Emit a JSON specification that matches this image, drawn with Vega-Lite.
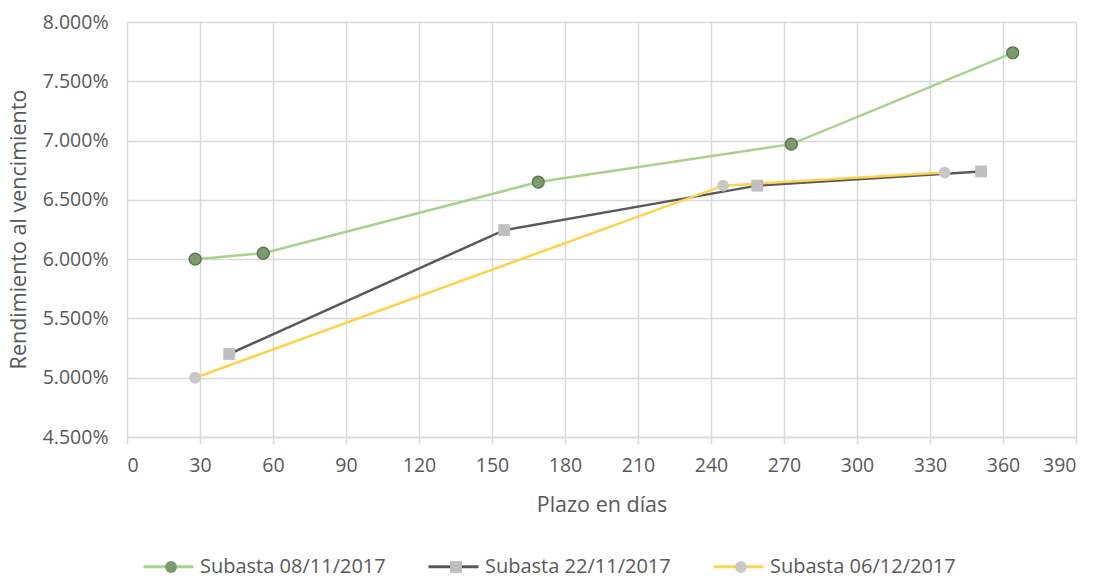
{
  "$schema": "https://vega.github.io/schema/vega-lite/v6.json",
  "width": 949,
  "height": 415,
  "autosize": {"type": "none"},
  "padding": {"left": 127, "top": 22, "right": 21, "bottom": 144},
  "background": "white",
  "config": {
    "font": "Open Sans",
    "view": {"stroke": null},
    "axis": {
      "gridColor": "#d9d9d9",
      "gridWidth": 1.5,
      "labelColor": "#595959",
      "titleColor": "#595959",
      "labelFont": "Open Sans",
      "titleFont": "Open Sans",
      "labelFontSize": 19.5,
      "titleFontSize": 21.5,
      "titleFontWeight": "normal"
    },
    "legend": {"labelFont": "Open Sans", "labelFontSize": 20, "labelColor": "#595959", "labelLimit": 400}
  },
  "data": {
    "values": [
      {"series": "Subasta 08/11/2017", "plazo": 28, "rend": 0.0600},
      {"series": "Subasta 08/11/2017", "plazo": 56, "rend": 0.0605},
      {"series": "Subasta 08/11/2017", "plazo": 169, "rend": 0.0665},
      {"series": "Subasta 08/11/2017", "plazo": 273, "rend": 0.0697},
      {"series": "Subasta 08/11/2017", "plazo": 364, "rend": 0.0774},
      {"series": "Subasta 22/11/2017", "plazo": 42, "rend": 0.0520},
      {"series": "Subasta 22/11/2017", "plazo": 155, "rend": 0.06245},
      {"series": "Subasta 22/11/2017", "plazo": 259, "rend": 0.0662},
      {"series": "Subasta 22/11/2017", "plazo": 351, "rend": 0.0674},
      {"series": "Subasta 06/12/2017", "plazo": 28, "rend": 0.0500},
      {"series": "Subasta 06/12/2017", "plazo": 245, "rend": 0.0662},
      {"series": "Subasta 06/12/2017", "plazo": 336, "rend": 0.0673}
    ]
  },
  "encoding": {
    "x": {
      "field": "plazo", "type": "quantitative",
      "scale": {"domain": [0, 390], "nice": false, "zero": false},
      "axis": {
        "title": "Plazo en días",
        "values": [0, 30, 60, 90, 120, 150, 180, 210, 240, 270, 300, 330, 360, 390],
        "domainColor": "#d9d9d9", "domainWidth": 1.5,
        "tickColor": "#d9d9d9", "tickWidth": 1.5, "tickSize": 7,
        "labelPadding": 12,
        "titleBaseline": "middle", "titleY": 68
      }
    },
    "y": {
      "field": "rend", "type": "quantitative",
      "scale": {"domain": [0.045, 0.08], "nice": false, "zero": false},
      "axis": {
        "title": "Rendimiento al vencimiento",
        "values": [0.045, 0.05, 0.055, 0.06, 0.065, 0.07, 0.075, 0.08],
        "format": ".3%",
        "domain": false, "ticks": false,
        "labelPadding": 19,
        "titleBaseline": "middle", "titleX": -108, "titleY": 207
      }
    }
  },
  "layer": [
    {
      "mark": {"type": "line", "strokeWidth": 2.5},
      "encoding": {
        "stroke": {
          "field": "series", "type": "nominal",
          "sort": ["Subasta 08/11/2017", "Subasta 22/11/2017", "Subasta 06/12/2017"],
          "scale": {"range": ["#a9d18e", "#595959", "#ffd24d"]},
          "legend": {
            "title": null, "orient": "none", "direction": "horizontal",
            "legendX": 15, "legendY": 518,
            "symbolType": "M-1,0H1", "symbolSize": 2500, "symbolStrokeWidth": 3,
            "labelOffset": 5, "columnPadding": 36
          }
        }
      }
    },
    {
      "mark": {"type": "point", "filled": true, "opacity": 1, "size": 140, "stroke": {"expr": "datum.series === 'Subasta 08/11/2017' ? '#5e7a50' : null"}, "strokeWidth": 1.5},
      "encoding": {
        "fill": {
          "field": "series", "type": "nominal",
          "scale": {"domain": ["Subasta 08/11/2017", "Subasta 22/11/2017", "Subasta 06/12/2017"], "range": ["#7d9a6e", "#bfbfbf", "#c8c8c8"]},
          "legend": {
            "title": null, "orient": "none", "direction": "horizontal",
            "legendX": 15, "legendY": 535,
            "symbolSize": 140, "symbolOffset": 19, "symbolOpacity": 1,
            "labelExpr": "''", "labelOffset": 0, "columnPadding": 246
          }
        },
        "shape": {
          "field": "series", "type": "nominal",
          "scale": {"domain": ["Subasta 08/11/2017", "Subasta 22/11/2017", "Subasta 06/12/2017"], "range": ["circle", "square", "circle"]}
        }
      }
    }
  ]
}
